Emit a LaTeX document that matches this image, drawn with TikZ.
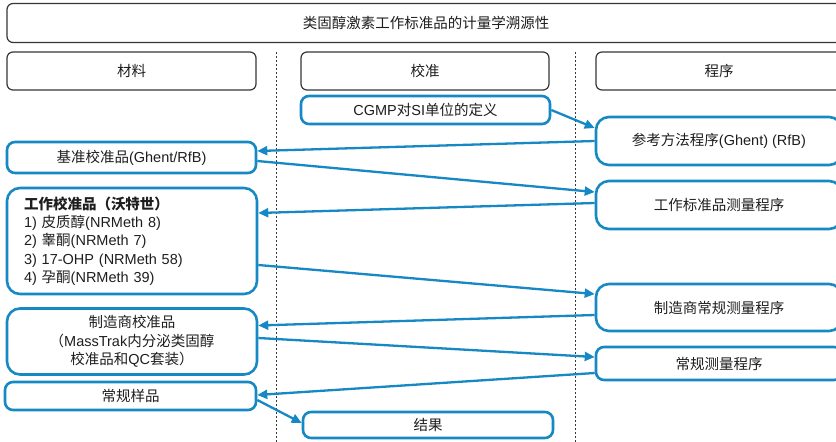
\documentclass[tikz,border=0pt]{standalone}
\usepackage{fontspec}
\setmainfont{Liberation Sans}
\newfontfamily\cjk{Noto Sans CJK SC}
\usetikzlibrary{arrows.meta}
\definecolor{boxblue}{RGB}{22,136,196}
\definecolor{hdrgray}{RGB}{55,55,55}
\definecolor{txt}{RGB}{30,30,30}
\tikzset{
  hdr/.style={draw=hdrgray, line width=1.2pt, rounded corners=6pt, inner sep=0pt, text=txt},
  bbox/.style={draw=boxblue, line width=2.6pt, rounded corners=8pt, inner sep=0pt, text=txt},
  bigbox/.style={bbox, rounded corners=13pt},
  conn/.style={draw=boxblue, line width=2.3pt, -{Triangle[length=10pt,width=9pt]}},
  sep/.style={draw=hdrgray, line width=0.9pt, dash pattern=on 2pt off 2pt},
}
\begin{document}
\begin{tikzpicture}[x=1pt,y=-1pt, font=\fontsize{14.5}{18.3}\selectfont]
\useasboundingbox (0,0) rectangle (836,442);
\clip (0,0) rectangle (836,442);
\fill[white] (0,0) rectangle (836,442);
% separators
\draw[sep] (276,52) -- (276,442);
\draw[sep] (575.5,52) -- (575.5,442);
% header
\node[hdr, minimum width=838pt, minimum height=39pt] (title) at (426,23) {\cjk 类固醇激素工作标准品的计量学溯源性};
\node[hdr, minimum width=249pt, minimum height=38pt] (h1) at (131.5,71) {\cjk 材料};
\node[hdr, minimum width=248pt, minimum height=38pt] (h2) at (425,71) {\cjk 校准};
\node[hdr, minimum width=246pt, minimum height=38pt] (h3) at (719,71) {\cjk 程序};
% boxes
\node[bbox, minimum width=249pt, minimum height=28pt] (cgmp) at (425.5,110) {CGMP{\cjk 对}SI{\cjk 单位的定义}};
\node[bigbox, minimum width=246pt, minimum height=48pt] (ref) at (719,141) {{\cjk 参考方法程序}(Ghent) (RfB)};
\node[bbox, minimum width=249pt, minimum height=31pt] (base) at (131.5,157.5) {{\cjk 基准校准品}(Ghent/RfB)};
\node[bigbox, minimum width=250pt, minimum height=106pt, text width=216pt, align=left] (work) at (132,241)
  {{\cjk\bfseries 工作校准品（沃特世）}\\
   1) {\cjk 皮质醇}(NRMeth 8)\\
   2) {\cjk 睾酮}(NRMeth 7)\\
   3) 17-OHP (NRMeth 58)\\
   4) {\cjk 孕酮}(NRMeth 39)};
\node[bigbox, minimum width=246pt, minimum height=48pt] (wsmp) at (719,205) {\cjk 工作标准品测量程序};
\node[bigbox, minimum width=246pt, minimum height=47pt] (mrmp) at (719,307.5) {\cjk 制造商常规测量程序};
\node[bigbox, minimum width=250pt, minimum height=66pt, align=center] (mcal) at (132,341.5)
  {{\cjk 制造商校准品}\\{\cjk （}MassTrak{\cjk 内分泌类固醇}\\{\cjk 校准品和}QC{\cjk 套装）}};
\node[bbox, minimum width=246pt, minimum height=33pt] (rmp) at (719,363.5) {\cjk 常规测量程序};
\node[bbox, minimum width=251pt, minimum height=28pt] (sample) at (130.5,396) {\cjk 常规样品};
\node[bbox, minimum width=250pt, minimum height=26pt] (result) at (428,425) {\cjk 结果};
% connectors
\draw[conn] (cgmp.east) -- ([yshift=13pt]ref.west);
\draw[conn] (ref.west) -- ([yshift=6.5pt]base.east);
\draw[conn] ([yshift=-3.5pt]base.east) -- ([yshift=13pt]wsmp.west);
\draw[conn] ([yshift=2pt]wsmp.west) -- ([yshift=28pt]work.east);
\draw[conn] ([yshift=-24pt]work.east) -- ([yshift=13.5pt]mrmp.west);
\draw[conn] ([yshift=-7.5pt]mrmp.west) -- ([yshift=16pt]mcal.east);
\draw[conn] ([yshift=3.5pt]mcal.east) -- ([yshift=6.5pt]rmp.west);
\draw[conn] ([yshift=-9.5pt]rmp.west) -- ([yshift=1pt]sample.east);
\draw[conn] ([yshift=-4pt]sample.east) -- ([yshift=2pt]result.west);
\end{tikzpicture}
\end{document}
